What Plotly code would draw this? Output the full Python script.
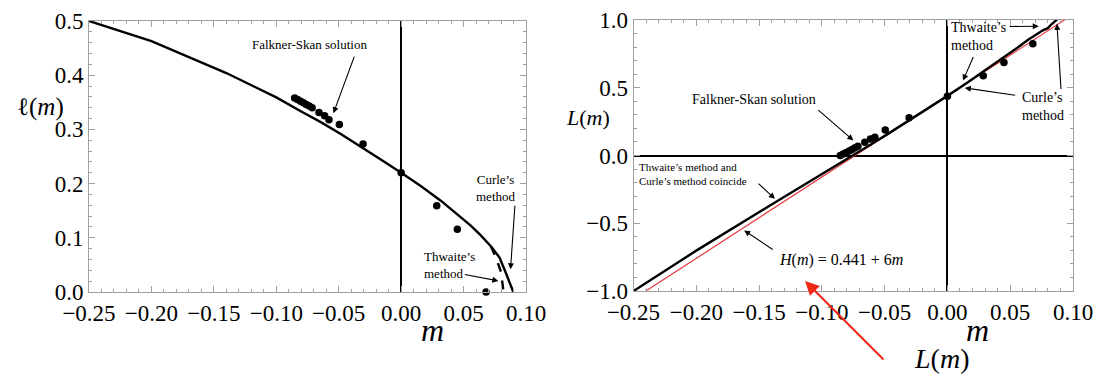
import plotly.graph_objects as go

# ---------------- data ----------------
# Thwaites method curve (common part), left panel l(m)
m_th = [-0.25, -0.20, -0.14, -0.12, -0.10, -0.08, -0.064, -0.048, -0.032, -0.016,
        0.0, 0.016, 0.032, 0.048, 0.056, 0.064, 0.072]
l_th = [0.500, 0.463, 0.404, 0.382, 0.359, 0.333, 0.313, 0.291, 0.268, 0.244,
        0.220, 0.195, 0.168, 0.138, 0.122, 0.104, 0.084]
# Curle's branch near separation (solid)
m_curle = [0.072, 0.0788, 0.0843, 0.0898]
l_curle = [0.084, 0.0636, 0.0327, 0.0]
# Thwaite's branch near separation (dashed)
m_thw = [0.072, 0.0765, 0.080, 0.082]
l_thw = [0.084, 0.060, 0.037, 0.0]

# Falkner-Skan solution points
m_fs = [-0.0853, -0.0830, -0.0806, -0.0783, -0.0760, -0.0736, -0.0713, -0.0658,
        -0.0613, -0.0578, -0.0495, -0.0305, 0.0, 0.0285, 0.0450, 0.0680]
l_fs = [0.358, 0.355, 0.352, 0.349, 0.346, 0.343, 0.340, 0.331,
        0.325, 0.318, 0.309, 0.273, 0.220, 0.159, 0.116, 0.0]
L_fs = [0.0, 0.011, 0.022, 0.033, 0.045, 0.057, 0.068, 0.098,
        0.121, 0.135, 0.189, 0.278, 0.438, 0.588, 0.686, 0.824]

# right panel: L(m) from Thwaite's / Curle's method
m_L = [-0.25, -0.20, -0.14, -0.12, -0.10, -0.08, -0.064, -0.048, -0.032, -0.016,
       0.0, 0.016, 0.032, 0.048, 0.056, 0.064, 0.072, 0.076, 0.080, 0.082, 0.090]
L_th = [-1.000, -0.702, -0.362, -0.251, -0.138, -0.028, 0.064, 0.156, 0.249, 0.342,
        0.440, 0.539, 0.640, 0.744, 0.797, 0.853, 0.902, 0.924, 0.940, 0.961, 1.026]
# linear approximation H(m) = 0.441 + 6m
m_H = [-0.25, 0.10]
H_vals = [-1.059, 1.041]

x_ticks = [-0.25, -0.20, -0.15, -0.10, -0.05, 0.00, 0.05, 0.10]
l_ticks = [0.0, 0.1, 0.2, 0.3, 0.4, 0.5]
L_ticks = [-1.0, -0.5, 0.0, 0.5, 1.0]

# ---------------- figure ----------------
W, H = 1094, 378
SERIF = "Liberation Serif, Times New Roman, serif"
fig = go.Figure()

line_w = 2.4
fig.add_trace(go.Scatter(x=m_th, y=l_th, mode="lines", line=dict(color="black", width=line_w),
                         xaxis="x", yaxis="y", showlegend=False))
fig.add_trace(go.Scatter(x=m_curle, y=l_curle, mode="lines", line=dict(color="black", width=line_w),
                         xaxis="x", yaxis="y", showlegend=False))
fig.add_trace(go.Scatter(x=m_thw, y=l_thw, mode="lines", line=dict(color="black", width=line_w, dash="dash"),
                         xaxis="x", yaxis="y", showlegend=False))
fig.add_trace(go.Scatter(x=m_fs, y=l_fs, mode="markers", marker=dict(color="black", size=7.5),
                         xaxis="x", yaxis="y", showlegend=False, cliponaxis=False))

fig.add_trace(go.Scatter(x=m_H, y=H_vals, mode="lines", line=dict(color="#e8383d", width=1.2),
                         xaxis="x2", yaxis="y2", showlegend=False))
fig.add_trace(go.Scatter(x=m_L, y=L_th, mode="lines", line=dict(color="black", width=line_w),
                         xaxis="x2", yaxis="y2", showlegend=False))
fig.add_trace(go.Scatter(x=m_fs, y=L_fs, mode="markers", marker=dict(color="black", size=7.5),
                         xaxis="x2", yaxis="y2", showlegend=False))

tickfont = dict(family=SERIF, size=23, color="black")
frame = dict(showline=True, linecolor="#a0a0a0", linewidth=1, mirror="ticks",
             ticks="inside", ticklen=6, tickcolor="#a0a0a0", tickwidth=1,
             showgrid=False, tickfont=tickfont, tickangle=0, automargin=False)

def px_x(p):
    return p / W

def px_y(p):
    return 1 - p / H

fig.update_layout(
    width=W, height=H, margin=dict(l=0, r=0, t=0, b=0),
    paper_bgcolor="white", plot_bgcolor="white",
    xaxis=dict(domain=[px_x(89), px_x(526)], range=[-0.25, 0.10], tickvals=x_ticks,
               tickformat=".2f", zeroline=True, zerolinecolor="black", zerolinewidth=1.5,
               minor=dict(ticks="inside", dtick=0.01, ticklen=3, tickcolor="#a0a0a0"),
               anchor="y", **frame),
    yaxis=dict(domain=[px_y(292), px_y(21)], range=[0, 0.5], tickvals=l_ticks,
               tickformat=".1f", zeroline=False,
               minor=dict(ticks="inside", dtick=0.02, ticklen=3, tickcolor="#a0a0a0"),
               anchor="x", **frame),
    xaxis2=dict(domain=[px_x(633.5), px_x(1073)], range=[-0.25, 0.10], tickvals=x_ticks,
                tickformat=".2f", zeroline=True, zerolinecolor="black", zerolinewidth=1.5,
                minor=dict(ticks="inside", dtick=0.01, ticklen=3, tickcolor="#a0a0a0"),
                anchor="y2", **frame),
    yaxis2=dict(domain=[px_y(291), px_y(20)], range=[-1, 1], tickvals=L_ticks,
                tickformat=".1f", zeroline=True, zerolinecolor="black", zerolinewidth=1.5,
                minor=dict(ticks="inside", dtick=0.1, ticklen=3, tickcolor="#a0a0a0"),
                anchor="x2", **frame),
)

ann = []
small = dict(family=SERIF, size=13, color="black")
small14 = dict(family=SERIF, size=14, color="black")

def text(x, y, t, xref, yref, font, align="center", xanchor="center"):
    ann.append(dict(x=x, y=y, xref=xref, yref=yref, text=t, showarrow=False,
                    font=font, align=align, xanchor=xanchor, yanchor="middle"))

def arrow(hx, hy, tx, ty, xr, yr, color="black", width=1.1, size=1.1, head=2):
    ann.append(dict(x=hx, y=hy, ax=tx, ay=ty, xref=xr, yref=yr, axref=xr, ayref=yr,
                    text="", showarrow=True, arrowhead=head, arrowsize=size,
                    arrowwidth=width, arrowcolor=color))

# left panel annotations
text(-0.0735, 0.456, "Falkner-Skan solution", "x", "y", small)
arrow(-0.0542, 0.330, -0.0371, 0.437, "x", "y")
text(0.0752, 0.191, "Curle’s<br>method", "x", "y", small)
arrow(0.0876, 0.042, 0.0912, 0.162, "x", "y")
text(0.0167, 0.050, "Thwaite’s<br>method", "x", "y", small, align="left", xanchor="left")
arrow(0.0779, 0.0204, 0.0498, 0.0327, "x", "y")

# right panel annotations
text(-0.1543, 0.413, "Falkner-Skan solution", "x2", "y2", small14)
arrow(-0.0749, 0.111, -0.104, 0.344, "x2", "y2")
text(-0.2473, -0.135, "Thwaite’s method and<br>Curle’s method coincide", "x2", "y2",
     dict(family=SERIF, size=11, color="black"), align="left", xanchor="left")
arrow(-0.1374, -0.320, -0.1516, -0.197, "x2", "y2")
text(-0.085, -0.770, "<i>H</i>(<i>m</i>) = 0.441 + 6<i>m</i>", "x2", "y2",
     dict(family=SERIF, size=16, color="black"))
arrow(-0.1619, -0.553, -0.138, -0.701, "x2", "y2")
text(0.0016, 0.878, "Thwaite’s<br>method", "x2", "y2", small14, align="left", xanchor="left")
arrow(0.0728, 0.954, 0.0483, 0.952, "x2", "y2")
arrow(0.0124, 0.553, 0.0211, 0.738, "x2", "y2")
text(0.0578, 0.36, "Curle’s<br>method", "x2", "y2", small14, align="left", xanchor="left")
arrow(0.0138, 0.499, 0.0551, 0.443, "x2", "y2")
arrow(0.0872, 0.972, 0.0905, 0.48, "x2", "y2")

# axis titles
text(px_x(40), px_y(107), "ℓ(<i>m</i>)", "paper", "paper", dict(family=SERIF, size=25, color="black"))
text(px_x(588), px_y(117), "<i>L</i>(<i>m</i>)", "paper", "paper", dict(family=SERIF, size=22, color="black"))
text(px_x(432), px_y(330), "<i>m</i>", "paper", "paper", dict(family=SERIF, size=32, color="black"))
text(px_x(977), px_y(330), "<i>m</i>", "paper", "paper", dict(family=SERIF, size=32, color="black"))

# red arrow and L(m) label outside the plot
ann.append(dict(x=px_x(805), y=px_y(281), xref="paper", yref="paper", ax=80, ay=80,
                text="", showarrow=True, arrowhead=2, arrowsize=1.4, arrowwidth=2,
                arrowcolor="#f02818"))
text(px_x(942), px_y(358), "<i>L</i>(<i>m</i>)", "paper", "paper", dict(family=SERIF, size=28, color="black"))

fig.update_layout(annotations=ann)
fig.write_html("out.html")
